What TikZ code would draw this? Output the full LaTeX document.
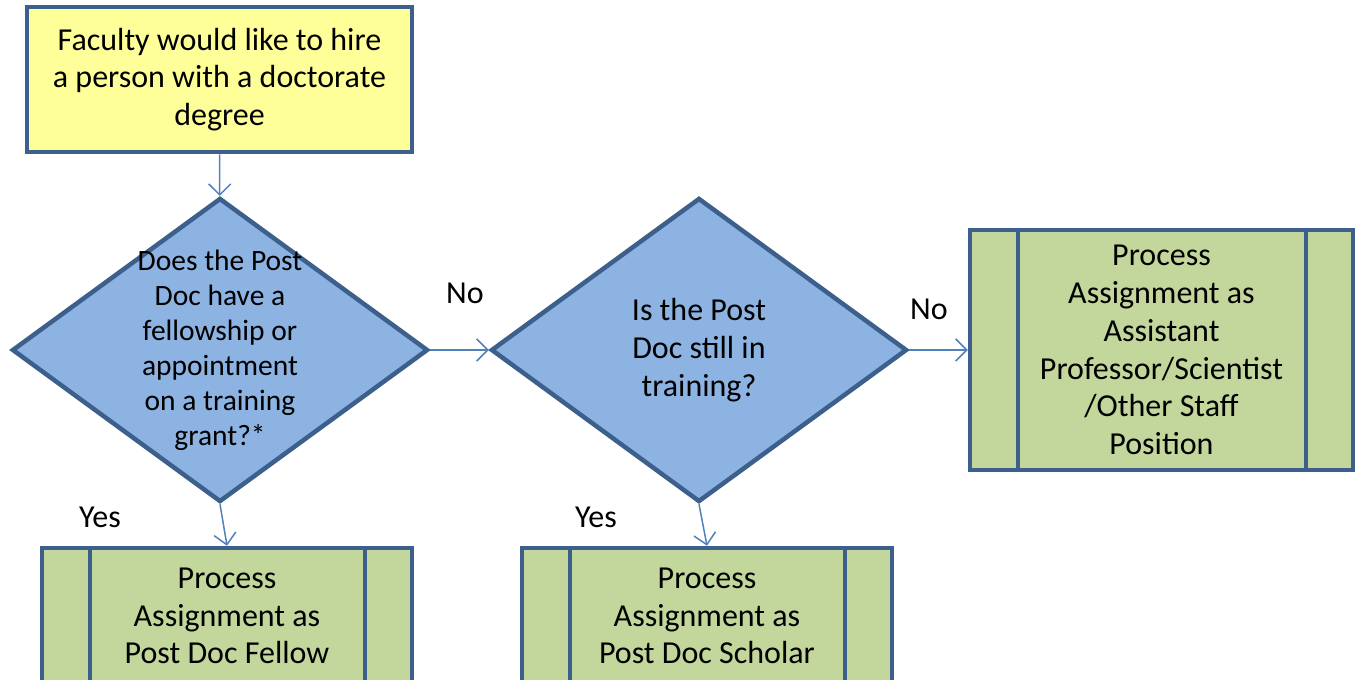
\documentclass[tikz,border=0pt]{standalone}
\usepackage{fontspec}
\setmainfont{Carlito}
\usetikzlibrary{arrows.meta,shapes.geometric,positioning}

\definecolor{rimblue}{HTML}{3C5F8C}
\definecolor{flowblue}{HTML}{4F81BD}
\definecolor{startyellow}{HTML}{FFFF99}
\definecolor{askblue}{HTML}{8DB3E2}
\definecolor{procgreen}{HTML}{C3D69B}

\tikzset{
  txt/.style={font=\fontsize{32}{37.8}\selectfont, align=center},
  startbox/.style={txt, rectangle, draw=rimblue, line width=4.5pt, fill=startyellow,
    minimum width=385pt, minimum height=145pt, inner sep=0pt},
  askbox/.style={txt, diamond, draw=rimblue, line width=4.5pt, fill=askblue,
    minimum width=416pt, minimum height=304pt, inner sep=-40pt},
  smalltxt/.style={font=\fontsize{29.5}{35}\selectfont},
  procbox/.style={txt, rectangle, draw=rimblue, line width=4.5pt, fill=procgreen,
    inner sep=0pt, minimum width=#1,
    path picture={
      \draw[rimblue, line width=4.5pt]
        ([xshift=48pt]path picture bounding box.north west) -- ([xshift=48pt]path picture bounding box.south west)
        ([xshift=-47pt]path picture bounding box.north east) -- ([xshift=-47pt]path picture bounding box.south east);
    }},
  flow/.style={draw=flowblue, line width=1.5pt, -{Straight Barb[length=11pt,width=22pt]}},
  answer/.style={txt}
}

\begin{document}
\begin{tikzpicture}[x=1pt,y=1pt]
  \clip (0,0) rectangle (1355,-680);

  \node [startbox] (hire) at (219.5,-79.5)
    {Faculty would like to hire\\a person with a doctorate\\degree};

  \node [askbox, smalltxt] (fellowq) at (220,-350)
    {Does the Post\\Doc have a\\fellowship or\\appointment\\on a training\\grant?*};
  \node [askbox] (trainq) at (699,-350)
    {Is the Post\\Doc still in\\training?};

  \node [procbox=383pt, minimum height=240pt] (staff) at (1161.5,-350)
    {Process\\Assignment as\\Assistant\\Professor/Scientist\\/Other Staff\\Position};
  \node [procbox=370pt, minimum height=136pt] (fellowp) at (227,-616)
    {Process\\Assignment as\\Post Doc Fellow};
  \node [procbox=370pt, minimum height=136pt] (scholarp) at (707,-616)
    {Process\\Assignment as\\Post Doc Scholar};

  % connectors
  \draw [flow] (hire) -- (fellowq);
  \draw [flow] (fellowq) -- (trainq);
  \draw [flow] (trainq) -- (staff);
  \draw [flow] (fellowq.south) -- (fellowp.north);
  \draw [flow] (trainq.south) -- (scholarp.north);

  \node [answer] (no1) at (465,-293) {No};
  \node [answer] (no2) at (929,-309) {No};
  \node [answer] (yes1) at (100,-517) {Yes};
  \node [answer] (yes2) at (596,-517) {Yes};
\end{tikzpicture}
\end{document}
